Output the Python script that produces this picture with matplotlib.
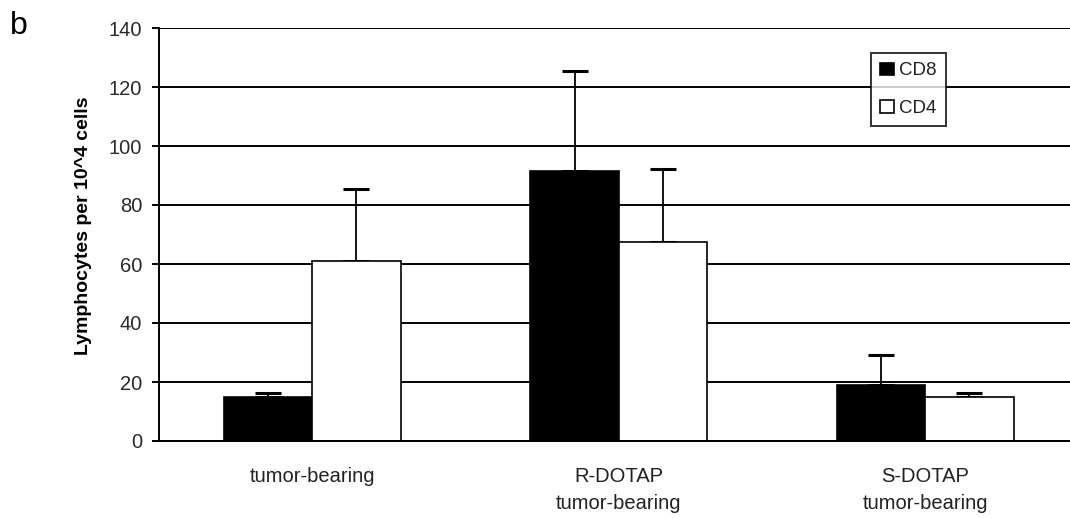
import matplotlib
matplotlib.use("Agg")
import matplotlib.pyplot as plt
import numpy as np

plt.rcParams['font.family'] = ['Liberation Sans', 'DejaVu Sans']

categories = ["tumor-bearing", "R-DOTAP\ntumor-bearing", "S-DOTAP\ntumor-bearing"]
cd8 = [14.8, 91.5, 19.0]
cd8_err = [1.4, 34.0, 10.2]
cd4 = [61.0, 67.6, 14.8]
cd4_err = [24.4, 24.6, 1.4]
yticks = [0, 20, 40, 60, 80, 100, 120, 140]

W, H = 1070, 518
fig = plt.figure(figsize=(W / 100, H / 100), dpi=100)
left, right, bottom, top = 159, 1070, 441, 28
ax = fig.add_axes([left / W, 1 - bottom / H, (right - left) / W, (bottom - top) / H])

x = np.arange(len(categories))
bw = 0.288
ekw = dict(elinewidth=1.3, capthick=2.2, ecolor='black')
ax.bar(x - bw / 2, cd8, bw, color='black', edgecolor='black', linewidth=1.2,
       label='CD8', zorder=3)
ax.errorbar(x - bw / 2, cd8, yerr=[np.zeros(3), cd8_err], fmt='none', capsize=9.5,
            zorder=2, **ekw)
ax.bar(x + bw / 2, cd4, bw, color='white', edgecolor='black', linewidth=1.2,
       label='CD4', zorder=3)
ax.errorbar(x + bw / 2, cd4, yerr=[np.zeros(3), cd4_err], fmt='none', capsize=9.5,
            zorder=2, **ekw)

ax.set_xlim(-0.5, (right - left) / 306.5 - 0.5)
ax.set_ylim(0, 140)
ax.set_yticks(yticks)
ax.yaxis.grid(True, color='black', linewidth=1.4, zorder=0)
ax.set_axisbelow(True)
for s in ['top', 'right']:
    ax.spines[s].set_visible(False)
ax.spines['left'].set_linewidth(1.4)
ax.spines['bottom'].set_linewidth(1.4)
ax.spines['bottom'].set_zorder(4)
ax.set_xticks(x)
ax.set_xticklabels(categories, fontsize=14.5, color='#222222', linespacing=1.5)
ax.tick_params(axis='x', length=0, pad=19)
ax.tick_params(axis='y', length=5, width=1.4, labelsize=14.5, colors='black', pad=7)
for lbl in ax.get_yticklabels():
    lbl.set_color('#2a2a2a')
ax.set_ylabel("Lymphocytes per 10^4 cells", fontsize=14, fontweight='bold')
ax.yaxis.set_label_coords(-0.074, 0.52)

leg = ax.legend(loc='upper left', bbox_to_anchor=((871 - left) / (right - left), (bottom - 53) / (bottom - top)),
                frameon=True, fancybox=False, edgecolor='black', fontsize=13.5,
                handlelength=0.75, handleheight=0.65, handletextpad=0.25,
                labelspacing=1.1, borderpad=0.5, borderaxespad=0)
leg.get_frame().set_linewidth(1.4)
leg.set_zorder(5)
for t in leg.get_texts():
    t.set_color('#222222')

fig.text(10 / W, 1 - 34 / H, "b", fontsize=23, color='black')

fig.savefig("out.png", dpi=100, facecolor='white')
